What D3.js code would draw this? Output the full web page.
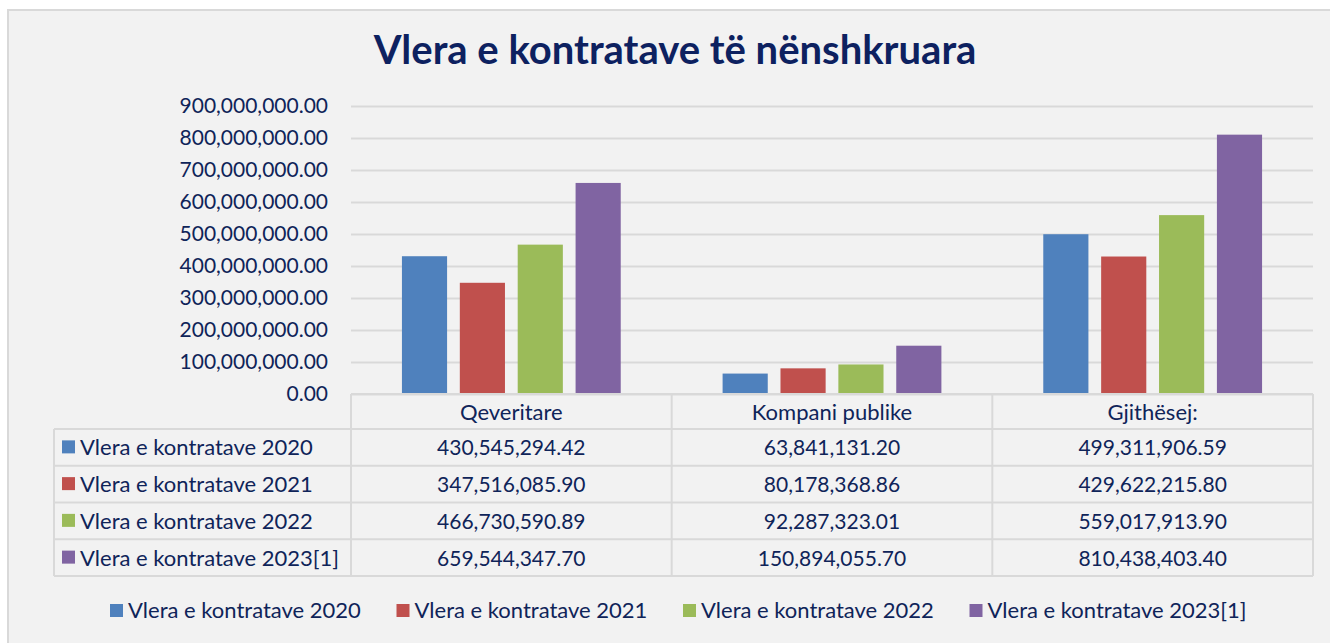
<!DOCTYPE html>
<html>
<head>
<meta charset="utf-8">
<script src="https://cdn.jsdelivr.net/npm/d3@7"></script>
<style>
  body { margin: 0; background: #fff; }
  svg text { font-family: Lato, "Open Sans", sans-serif; fill: #0f2459; }
</style>
</head>
<body>
<svg width="1330" height="643"></svg>
<script>
// data
var categories = ["Qeveritare", "Kompani publike", "Gjithësej:"];
var seriesNames = ["Vlera e kontratave 2020", "Vlera e kontratave 2021", "Vlera e kontratave 2022", "Vlera e kontratave 2023[1]"];
var v2020 = [430545294.42, 63841131.20, 499311906.59];
var v2021 = [347516085.90, 80178368.86, 429622215.80];
var v2022 = [466730590.89, 92287323.01, 559017913.90];
var v2023 = [659544347.70, 150894055.70, 810438403.40];
var colors = ["#4f81bd", "#c0504d", "#9bbb59", "#8064a2"];
var yTicks = [0, 100e6, 200e6, 300e6, 400e6, 500e6, 600e6, 700e6, 800e6, 900e6];

var series = [v2020, v2021, v2022, v2023].map(function(vals, i){
    return {name: seriesNames[i], color: colors[i], values: vals};
});

var svg = d3.select("svg");
var fmt = d3.format(",.2f");
var gridCol = "#d9d9d9";
var numSize = "21px", lblSize = "22px";

// background frame
svg.append("rect")
    .attr("x", 8).attr("y", 10)
    .attr("width", 1340).attr("height", 650)
    .attr("fill", "#f2f2f2")
    .attr("stroke", gridCol).attr("stroke-width", 2);

svg.append("text")
    .attr("x", 675).attr("y", 64)
    .attr("text-anchor", "middle")
    .style("font-size", "40px").style("font-weight", "bold")
    .style("fill", "#0d2160")
    .text("Vlera e kontratave të nënshkruara");

var plotL = 351, plotR = 1313, plotT = 106, base = 394;

var x = d3.scaleBand().domain(categories).range([plotL, plotR]).padding(0);
var xs = d3.scaleBand().domain(d3.range(series.length))
    .range([0, x.bandwidth()]).paddingInner(0.22).paddingOuter(0.88);
var y = d3.scaleLinear().domain([0, 900e6]).range([base, plotT]);

// y axis + grid
var yAxis = svg.append("g")
    .attr("transform", "translate(" + plotL + ",0)")
    .call(d3.axisLeft(y).tickValues(yTicks).tickFormat(fmt)
        .tickSizeInner(-(plotR - plotL)).tickSizeOuter(0).tickPadding(23));
yAxis.select(".domain").remove();
yAxis.selectAll("line").attr("stroke", gridCol).attr("stroke-width", 2);
yAxis.selectAll("text").style("font-size", numSize).style("font-family", "Lato, sans-serif").attr("fill", "#0f2459");

// bars
var groups = svg.selectAll(".grp")
    .data(series).enter().append("g")
    .attr("class", "grp");

groups.selectAll("rect")
    .data(function(s, i){ return s.values.map(function(v, j){ return {v: v, cat: categories[j], i: i, color: s.color}; }); })
    .enter().append("rect")
    .attr("x", function(d){ return x(d.cat) + xs(d.i); })
    .attr("y", function(d){ return y(d.v); })
    .attr("width", xs.bandwidth())
    .attr("height", function(d){ return base - 1 - y(d.v); })
    .attr("fill", function(d){ return d.color; });

// data table
var tableLeft = 54, headH = 35, rowH = 36.75;
var rowsTop = base + headH;
var tbl = svg.append("g");

function hline(x1, x2, yy){
    tbl.append("line").attr("x1", x1).attr("x2", x2).attr("y1", yy).attr("y2", yy)
        .attr("stroke", gridCol).attr("stroke-width", 2);
}
function vline(xx, y1, y2){
    tbl.append("line").attr("x1", xx).attr("x2", xx).attr("y1", y1).attr("y2", y2)
        .attr("stroke", gridCol).attr("stroke-width", 2);
}
var tableBottom = rowsTop + rowH * series.length;
hline(plotL, plotR, base);
for (var r = 0; r <= series.length; r++) hline(tableLeft, plotR, rowsTop + r * rowH);
vline(tableLeft, rowsTop, tableBottom);
vline(plotL, base, tableBottom);
categories.forEach(function(c){ vline(x(c) + x.bandwidth(), base, tableBottom); });

// header
tbl.selectAll(".hdr").data(categories).enter().append("text")
    .attr("x", function(c){ return x(c) + x.bandwidth() / 2; })
    .attr("y", base + headH / 2 + 8)
    .attr("text-anchor", "middle")
    .style("font-size", lblSize)
    .text(function(c){ return c; });

series.forEach(function(s, i){
    var cy = rowsTop + i * rowH + rowH / 2;
    tbl.append("rect").attr("x", 62).attr("y", cy - 7).attr("width", 13).attr("height", 13)
        .attr("fill", s.color);
    tbl.append("text").attr("x", 80).attr("y", cy + 8)
        .style("font-size", lblSize).text(s.name);
    s.values.forEach(function(v, j){
        tbl.append("text")
            .attr("x", x(categories[j]) + x.bandwidth() / 2)
            .attr("y", cy + 8)
            .attr("text-anchor", "middle")
            .style("font-size", numSize)
            .text(fmt(v));
    });
});

// legend
var lg = svg.append("g").attr("transform", "translate(110,604)");
var li = lg.selectAll("g").data(series).enter().append("g")
    .attr("transform", function(d, i){ return "translate(" + (i * 286.5) + ",0)"; });
li.append("rect").attr("width", 13).attr("height", 13).attr("fill", function(d){ return d.color; });
li.append("text").attr("x", 18).attr("y", 14)
    .style("font-size", lblSize).text(function(d){ return d.name; });
</script>
</body>
</html>
